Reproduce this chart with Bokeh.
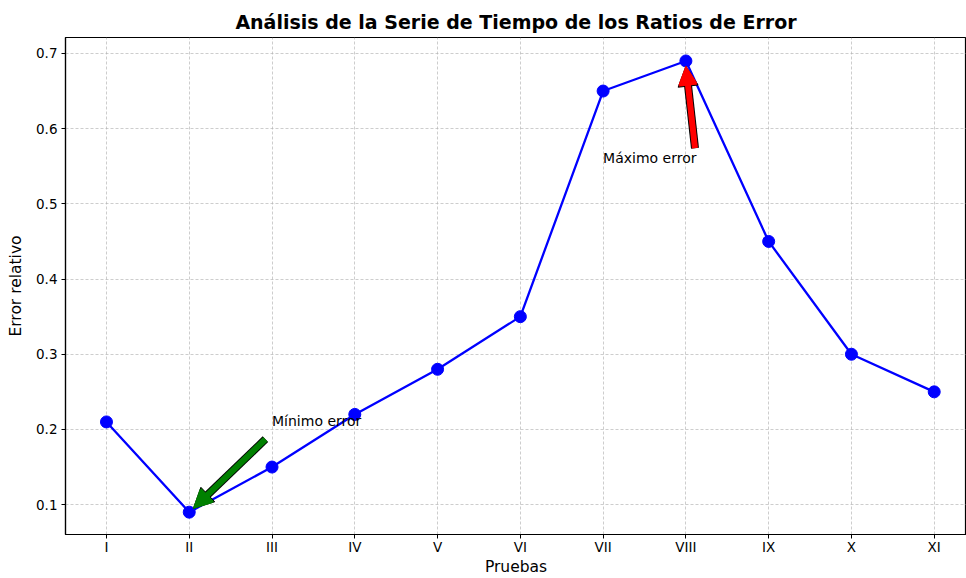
from bokeh.plotting import figure
from bokeh.models import ColumnDataSource, FixedTicker, Arrow, NormalHead, Range1d, Label
from bokeh.embed import file_html
from bokeh.resources import INLINE

# ---- data ----
categories = ["I", "II", "III", "IV", "V", "VI", "VII", "VIII", "IX", "X", "XI"]
error_values = [0.21, 0.09, 0.15, 0.22, 0.28, 0.35, 0.65, 0.69, 0.45, 0.30, 0.25]
y_ticks = [0.1, 0.2, 0.3, 0.4, 0.5, 0.6, 0.7]

# annotation text positions (x index, value)
min_text_pos = (2.0, 0.2)
max_text_pos = (6.0, 0.55)
min_label = "Mínimo error"
max_label = "Máximo error"

xs = list(range(len(categories)))
src = ColumnDataSource(dict(x=xs, y=error_values))

FONT = "DejaVu Sans"

p = figure(width=966, height=578, output_backend="svg", toolbar_location=None,
           x_range=Range1d(-0.495, 10.39), y_range=Range1d(0.0603, 0.7212),
           min_border_left=65, min_border_right=0, min_border_top=37, min_border_bottom=42)

p.title.text = "Análisis de la Serie de Tiempo de los Ratios de Error"
p.title.text_font = FONT
p.title.text_font_style = "bold"
p.title.text_font_size = "19px"
p.title.text_color = "black"
p.title.align = "center"

p.line("x", "y", source=src, line_color="blue", line_width=2.3)
p.scatter("x", "y", source=src, size=12, color="blue")

# axes
p.xaxis.ticker = FixedTicker(ticks=xs)
p.xaxis.major_label_overrides = {i: c for i, c in enumerate(categories)}
p.yaxis.ticker = FixedTicker(ticks=y_ticks)
p.xaxis.axis_label = "Pruebas"
p.yaxis.axis_label = "Error relativo"
for ax in (p.xaxis, p.yaxis):
    ax.axis_label_text_font = FONT
    ax.axis_label_text_font_style = "normal"
    ax.axis_label_text_font_size = "15.5px"
    ax.axis_label_text_color = "black"
    ax.major_label_text_font = FONT
    ax.major_label_text_font_size = "13.5px"
    ax.major_label_text_color = "black"
    ax.axis_line_color = "black"
    ax.axis_line_width = 1.2
    ax.major_tick_line_color = "black"
    ax.major_tick_in = 0
    ax.major_tick_out = 4
    ax.minor_tick_line_color = None
p.yaxis.major_label_standoff = 4
p.yaxis.axis_label_standoff = 8
p.xaxis.major_label_standoff = 0
p.xaxis.axis_label_standoff = 0

p.outline_line_color = "black"
p.outline_line_width = 1.2

p.grid.grid_line_color = "#b0b0b0"
p.grid.grid_line_dash = "3 2"
p.grid.grid_line_width = 0.8
p.grid.grid_line_alpha = 0.8

# annotations
i_min = error_values.index(min(error_values))
i_max = error_values.index(max(error_values))

def add_arrow(tail, head, color):
    p.add_layout(Arrow(x_start=tail[0], y_start=tail[1], x_end=head[0], y_end=head[1],
                       line_color="black", line_width=8,
                       end=NormalHead(size=20, fill_color=color, line_color="black", line_width=1)))
    p.add_layout(Arrow(x_start=tail[0], y_start=tail[1], x_end=head[0], y_end=head[1],
                       line_color=color, line_width=6,
                       end=NormalHead(size=18, fill_color=color, line_color=color, line_width=1)))

min_head = (xs[i_min] + 0.05, error_values[i_min] + 0.005)
min_tail = (min_text_pos[0] - 0.08, min_text_pos[1] - 0.013)
add_arrow(min_tail, min_head, "green")

max_head = (xs[i_max], error_values[i_max] - 0.007)
max_tail = (xs[i_max] + 0.11, max_text_pos[1] + 0.024)
add_arrow(max_tail, max_head, "red")

for (tx, ty), txt in ((min_text_pos, min_label), (max_text_pos, max_label)):
    p.add_layout(Label(x=tx, y=ty, text=txt, text_font=FONT, text_font_size="14px",
                       text_color="black", text_baseline="bottom", text_align="left"))

open("out.html", "w").write(file_html(p, INLINE))
